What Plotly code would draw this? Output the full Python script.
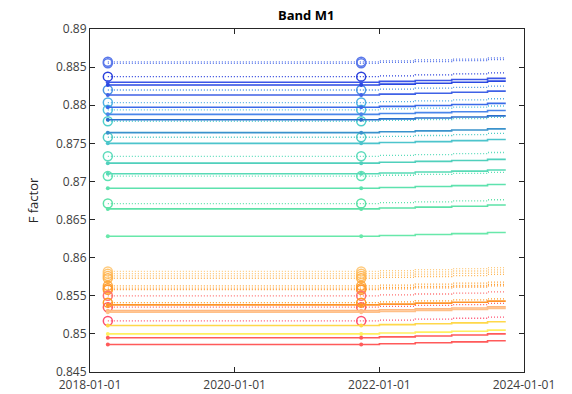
import plotly.graph_objects as go

# ---- data -------------------------------------------------------------
dates = ["2018-04-01", "2021-10-01", "2022-01-01", "2022-07-01",
         "2023-01-01", "2023-07-01", "2023-10-01"]

# solid series (HAM side A): value at each date
solid_values = [
    [0.88302, 0.88302, 0.88313, 0.88325, 0.88337, 0.88352, 0.88352],
    [0.88266, 0.88266, 0.88277, 0.88289, 0.88301, 0.88316, 0.88316],
    [0.88135, 0.88135, 0.88146, 0.88158, 0.88170, 0.88185, 0.88185],
    [0.87974, 0.87974, 0.87985, 0.87997, 0.88009, 0.88024, 0.88024],
    [0.87880, 0.87880, 0.87891, 0.87903, 0.87915, 0.87930, 0.87930],
    [0.87810, 0.87810, 0.87821, 0.87833, 0.87845, 0.87860, 0.87860],
    [0.87640, 0.87640, 0.87651, 0.87663, 0.87675, 0.87690, 0.87690],
    [0.87500, 0.87500, 0.87511, 0.87523, 0.87535, 0.87550, 0.87550],
    [0.87240, 0.87240, 0.87251, 0.87263, 0.87275, 0.87290, 0.87290],
    [0.87100, 0.87100, 0.87111, 0.87123, 0.87135, 0.87150, 0.87150],
    [0.86910, 0.86910, 0.86921, 0.86933, 0.86945, 0.86960, 0.86960],
    [0.86640, 0.86640, 0.86651, 0.86663, 0.86675, 0.86690, 0.86690],
    [0.86280, 0.86280, 0.86291, 0.86303, 0.86315, 0.86330, 0.86330],
    [0.85380, 0.85380, 0.85391, 0.85403, 0.85415, 0.85430, 0.85430],
    [0.85305, 0.85305, 0.85316, 0.85328, 0.85340, 0.85355, 0.85355],
    [0.85285, 0.85285, 0.85296, 0.85308, 0.85320, 0.85335, 0.85335],
    [0.85110, 0.85110, 0.85121, 0.85133, 0.85145, 0.85160, 0.85160],
    [0.85000, 0.85000, 0.85011, 0.85023, 0.85035, 0.85050, 0.85050],
    [0.84950, 0.84950, 0.84961, 0.84973, 0.84985, 0.85000, 0.85000],
    [0.84860, 0.84860, 0.84871, 0.84883, 0.84895, 0.84910, 0.84910],
]

# dotted series (HAM side B)
dotted_values = [
    [0.88570, 0.88570, 0.88582, 0.88594, 0.88606, 0.88622, 0.88622],
    [0.88550, 0.88550, 0.88561, 0.88573, 0.88585, 0.88600, 0.88600],
    [0.88375, 0.88375, 0.88386, 0.88398, 0.88410, 0.88425, 0.88425],
    [0.88200, 0.88200, 0.88211, 0.88223, 0.88235, 0.88250, 0.88250],
    [0.88035, 0.88035, 0.88046, 0.88058, 0.88070, 0.88085, 0.88085],
    [0.87940, 0.87940, 0.87951, 0.87963, 0.87975, 0.87990, 0.87990],
    [0.87790, 0.87790, 0.87801, 0.87813, 0.87825, 0.87840, 0.87840],
    [0.87580, 0.87580, 0.87591, 0.87603, 0.87615, 0.87630, 0.87630],
    [0.87330, 0.87330, 0.87341, 0.87353, 0.87365, 0.87380, 0.87380],
    [0.87070, 0.87070, 0.87081, 0.87093, 0.87105, 0.87120, 0.87120],
    [0.86710, 0.86710, 0.86721, 0.86733, 0.86745, 0.86760, 0.86760],
    [0.85820, 0.85820, 0.85831, 0.85843, 0.85855, 0.85870, 0.85870],
    [0.85790, 0.85790, 0.85801, 0.85813, 0.85825, 0.85840, 0.85840],
    [0.85760, 0.85760, 0.85771, 0.85783, 0.85795, 0.85810, 0.85810],
    [0.85730, 0.85730, 0.85741, 0.85753, 0.85765, 0.85780, 0.85780],
    [0.85630, 0.85630, 0.85641, 0.85653, 0.85665, 0.85680, 0.85680],
    [0.85600, 0.85600, 0.85611, 0.85623, 0.85635, 0.85650, 0.85650],
    [0.85580, 0.85580, 0.85591, 0.85603, 0.85615, 0.85630, 0.85630],
    [0.85500, 0.85500, 0.85511, 0.85523, 0.85535, 0.85550, 0.85550],
    [0.85410, 0.85410, 0.85421, 0.85433, 0.85445, 0.85460, 0.85460],
    [0.85350, 0.85350, 0.85361, 0.85373, 0.85385, 0.85400, 0.85400],
    [0.85170, 0.85170, 0.85181, 0.85193, 0.85205, 0.85220, 0.85220],
]

x_tick_labels = ["2018-01-01", "2020-01-01", "2022-01-01", "2024-01-01"]
y_tick_values = [0.845, 0.85, 0.855, 0.86, 0.865, 0.87, 0.875, 0.88, 0.885, 0.89]
y_tick_labels = ["0.845", "0.85", "0.855", "0.86", "0.865", "0.87",
                 "0.875", "0.88", "0.885", "0.89"]

# ---- styles -----------------------------------------------------------
solid_colors = ["#3a55e8", "#2a48e2", "#4062e6", "#3a6ae8", "#4a86ea",
                "#2a70cc", "#3a92cc", "#4cc4cc", "#50d0bc", "#58dab6",
                "#5ee2ae", "#5ee2a8", "#68e8aa", "#ff9428", "#ffb880",
                "#ffc088", "#ffd84a", "#fff060", "#ff5a5a", "#ff5a5a"]
dotted_colors = ["#5a78ea", "#5a78ea", "#2a40dc", "#4a94e4", "#50b0e4",
                 "#50c2dc", "#50d0cc", "#50ccc4", "#5edcbc", "#5ee2b4",
                 "#5ee2a8", "#ffcc80", "#ffc470", "#ffbc60", "#ffb450",
                 "#ffa840", "#ffa030", "#ff9830", "#ff7070", "#ff9a20",
                 "#ff6060", "#ff5070"]

fig = go.Figure()

for vals, col in zip(dotted_values, dotted_colors):
    fig.add_trace(go.Scatter(x=dates, y=vals, mode="lines",
                             line=dict(color=col, width=1.3, dash="1px,2px", shape="hv"),
                             showlegend=False, hoverinfo="skip"))
    fig.add_trace(go.Scatter(x=dates[:2], y=vals[:2], mode="markers",
                             marker=dict(symbol="circle-open", size=9, color=col,
                                         line=dict(color=col, width=1.5)),
                             showlegend=False, hoverinfo="skip"))

for vals, col in zip(solid_values, solid_colors):
    fig.add_trace(go.Scatter(x=dates, y=vals, mode="lines",
                             line=dict(color=col, width=1.6, shape="hv"),
                             showlegend=False, hoverinfo="skip"))
    fig.add_trace(go.Scatter(x=dates[:2], y=vals[:2], mode="markers",
                             marker=dict(symbol="circle", size=4, color=col),
                             showlegend=False, hoverinfo="skip"))

axis_common = dict(showline=True, mirror="ticks", linecolor="#262626", linewidth=1,
                   ticks="inside", ticklen=5, tickcolor="#262626",
                   showgrid=False, zeroline=False, automargin=False,
                   tickfont=dict(family="Open Sans", size=12, color="#404040"))

fig.update_xaxes(type="date", range=["2018-01-01", "2024-01-01"],
                 tickvals=x_tick_labels, ticktext=x_tick_labels,
                 ticklabelstandoff=2, **axis_common)
fig.update_yaxes(range=[0.845, 0.89], tickvals=y_tick_values,
                 ticktext=y_tick_labels,
                 title=dict(text="F factor", standoff=14,
                            font=dict(family="Open Sans", size=13, color="#262626")),
                 **axis_common)

fig.update_layout(
    width=572, height=394,
    margin=dict(l=90, r=48, t=29, b=22),
    paper_bgcolor="white", plot_bgcolor="white",
    title=dict(text="Band M1", x=0.5353, xanchor="center", y=0.962, yanchor="middle",
               font=dict(family="Open Sans", size=13, color="#000000", weight="bold")),
)

fig.write_html("out.html")
